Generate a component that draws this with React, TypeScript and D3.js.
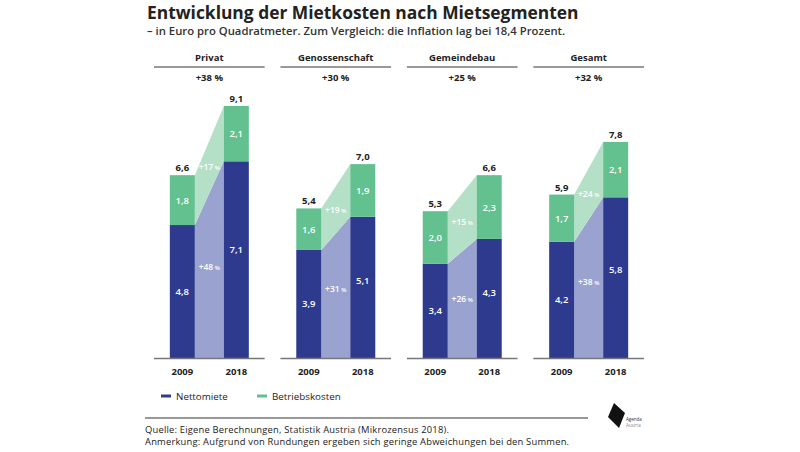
import React from "react";
import * as d3 from "d3";

const categories = ["Privat", "Genossenschaft", "Gemeindebau", "Gesamt"];
const totalChange = ["+38 %", "+30 %", "+25 %", "+32 %"];
const years = ["2009", "2018"];
const netto2009 = [4.8, 3.9, 3.4, 4.2];
const netto2018 = [7.1, 5.1, 4.3, 5.8];
const betrieb2009 = [1.8, 1.6, 2.0, 1.7];
const betrieb2018 = [2.1, 1.9, 2.3, 2.1];
const total2009 = [6.6, 5.4, 5.3, 5.9];
const total2018 = [9.1, 7.0, 6.6, 7.8];
const nettoChange = ["+48", "+31", "+26", "+38"];
const betriebChange = ["+17", "+19", "+15", "+24"];
const legendLabels = ["Nettomiete", "Betriebskosten"];

const W = 800;
const H = 452;
const FONT = "'Open Sans', 'Noto Sans', sans-serif";
const C_NETTO = "#2d3a8e";
const C_BETRIEB = "#63c08f";
const C_NETTO_L = "#9aa2d0";
const C_BETRIEB_L = "#b5e0c8";
const C_TEXT = "#222";

const fmt = (v: number) => d3.format(".1f")(v).replace(".", ",");

export default function App() {
  const panel = d3.scaleBand().domain(categories).range([154, 644]).paddingInner(0.125).paddingOuter(0);
  const y = d3.scaleLinear().domain([0, 10]).range([358, 81]);
  const barW = 25;
  const offsets = [-27, 27];

  return (
    <div style={{ position: "fixed", left: 0, top: 0 }}>
      <svg width={W} height={H} style={{ display: "block", background: "#fff" }} fontFamily={FONT}>
        <text x={147} y={19} fontSize={17.4} fontWeight={700} fill={C_TEXT}>
          Entwicklung der Mietkosten nach Mietsegmenten
        </text>
        <text x={147} y={35} fontSize={11.3} fontWeight={600} fill="#333">
          – in Euro pro Quadratmeter. Zum Vergleich: die Inflation lag bei 18,4 Prozent.
        </text>
        {categories.map((cat, i) => {
          const x0 = panel(cat)!;
          const pw = panel.bandwidth();
          const cx = x0 + pw / 2;
          const xs = offsets.map((o) => cx + o - barW / 2);
          const netto = [netto2009[i], netto2018[i]];
          const betrieb = [betrieb2009[i], betrieb2018[i]];
          const total = [total2009[i], total2018[i]];
          const lx = xs[0] + barW;
          const rx = xs[1];
          const midX = (lx + rx) / 2;
          const nettoPoly = [
            [lx, y(0)],
            [lx, y(netto[0])],
            [rx, y(netto[1])],
            [rx, y(0)],
          ];
          const betriebPoly = [
            [lx, y(netto[0])],
            [lx, y(total[0])],
            [rx, y(total[1])],
            [rx, y(netto[1])],
          ];
          const line = d3.line();
          const nMid = (netto[0] + netto[1]) / 2;
          const tMid = (total[0] + total[1]) / 2;
          return (
            <g key={cat}>
              <text x={cx} y={60.5} textAnchor="middle" fontSize={9.5} fontWeight={700} fill={C_TEXT}>
                {cat}
              </text>
              <line x1={x0} x2={x0 + pw} y1={67} y2={67} stroke="#777" strokeWidth={1.3} />
              <text x={cx} y={80.5} textAnchor="middle" fontSize={9.5} fontWeight={700} fill={C_TEXT}>
                {totalChange[i]}
              </text>
              <path d={line(nettoPoly as [number, number][])! + "Z"} fill={C_NETTO_L} />
              <path d={line(betriebPoly as [number, number][])! + "Z"} fill={C_BETRIEB_L} />
              {years.map((yr, j) => (
                <g key={yr}>
                  <rect x={xs[j]} y={y(netto[j])} width={barW} height={y(0) - y(netto[j])} fill={C_NETTO} />
                  <rect x={xs[j]} y={y(total[j])} width={barW} height={y(netto[j]) - y(total[j])} fill={C_BETRIEB} />
                  <text
                    x={xs[j] + barW / 2}
                    y={y(netto[j] * (j === 0 ? 0.5 : 0.55)) + 3.5}
                    textAnchor="middle"
                    fontSize={9.5}
                    fontWeight={600}
                    fill="#fff"
                  >
                    {fmt(netto[j])}
                  </text>
                  <text
                    x={xs[j] + barW / 2}
                    y={y((netto[j] + total[j]) / 2) + 3.5}
                    textAnchor="middle"
                    fontSize={9.5}
                    fontWeight={600}
                    fill="#fff"
                  >
                    {fmt(betrieb[j])}
                  </text>
                  <text x={xs[j] + barW / 2} y={y(total[j]) - 4} textAnchor="middle" fontSize={9.5} fontWeight={700} fill={C_TEXT}>
                    {fmt(total[j])}
                  </text>
                  <text x={xs[j] + barW / 2} y={375} textAnchor="middle" fontSize={9.5} fontWeight={700} fill={C_TEXT}>
                    {yr}
                  </text>
                </g>
              ))}
              <text x={midX} y={y(nMid * 0.55) + 3} textAnchor="middle" fontSize={8.5} fontWeight={600} fill="#fff">
                {nettoChange[i]}
                <tspan fontSize={6}> %</tspan>
              </text>
              <text x={midX} y={y((nMid + tMid) / 2) + 3} textAnchor="middle" fontSize={8.5} fontWeight={600} fill="#fff">
                {betriebChange[i]}
                <tspan fontSize={6}> %</tspan>
              </text>
              <line x1={x0} x2={x0 + pw} y1={358.5} y2={358.5} stroke="#777" strokeWidth={1.3} />
            </g>
          );
        })}
        {legendLabels.map((lab, k) => {
          const lx = k === 0 ? 161 : 257;
          return (
            <g key={lab}>
              <line x1={lx} x2={lx + 10} y1={396} y2={396} stroke={k === 0 ? C_NETTO : C_BETRIEB} strokeWidth={3} />
              <text x={lx + 15} y={399.5} fontSize={9.8} fill={C_TEXT}>
                {lab}
              </text>
            </g>
          );
        })}
        <line x1={145} x2={588} y1={418} y2={418} stroke="#777" strokeWidth={1.3} />
        <text x={145} y={433} fontSize={9.4} letterSpacing={0.2} fill={C_TEXT}>
          Quelle: Eigene Berechnungen, Statistik Austria (Mikrozensus 2018).
        </text>
        <text x={145} y={445} fontSize={9.4} letterSpacing={0.2} fill={C_TEXT}>
          Anmerkung: Aufgrund von Rundungen ergeben sich geringe Abweichungen bei den Summen.
        </text>
        <path d="M614,403 L625,413 L619,428 L608,417 Z" fill="#111" />
        <text x={626} y={421} fontSize={4.5} fill="#333">Agenda</text>
        <text x={626} y={427} fontSize={4.5} fill="#888">Austria</text>
      </svg>
    </div>
  );
}
